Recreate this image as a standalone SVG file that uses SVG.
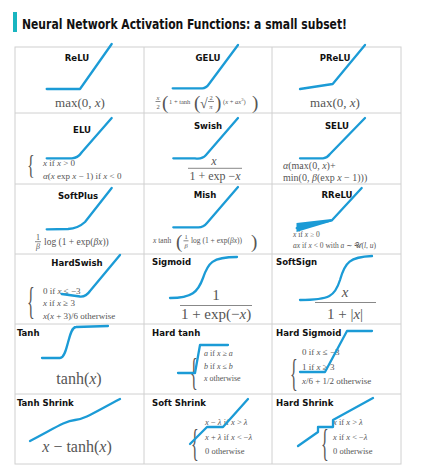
<svg xmlns="http://www.w3.org/2000/svg" width="430" height="474" viewBox="0 0 430 474">
<style>
.lab{font-family:"DejaVu Sans Condensed","Liberation Sans",sans-serif;font-weight:bold;font-size:9.5px;fill:#111;font-stretch:condensed}
.m{font-family:"Liberation Serif","DejaVu Serif",serif;fill:#555}
.i{font-style:italic}
.c{fill:none;stroke:#1b9bd6;stroke-width:2.3;stroke-linejoin:round;stroke-linecap:round}
.g{stroke:#d0d0d0;stroke-width:1;fill:none}
.fr{stroke:#555;stroke-width:0.7}
</style>
<rect width="430" height="474" fill="#fff"/>
<rect x="13" y="12" width="4" height="20" fill="#19b5c0"/>
<text x="22" y="29" font-family="DejaVu Sans Condensed,Liberation Sans,sans-serif" font-weight="bold" font-size="14" font-stretch="condensed" fill="#111" textLength="325" lengthAdjust="spacingAndGlyphs">Neural Network Activation Functions: a small subset!</text>
<g id="grid">
<rect class="g" x="15" y="47" width="386" height="417"/>
<line class="g" x1="144" y1="47" x2="144" y2="464"/>
<line class="g" x1="272" y1="47" x2="272" y2="464"/>
<line class="g" x1="15" y1="113" x2="401" y2="113"/>
<line class="g" x1="15" y1="184" x2="401" y2="184"/>
<line class="g" x1="15" y1="254" x2="401" y2="254"/>
<line class="g" x1="15" y1="324" x2="401" y2="324"/>
<line class="g" x1="15" y1="394" x2="401" y2="394"/>
</g>
<g id="relu">
<text class="lab" x="77" y="61" text-anchor="middle">ReLU</text>
<path class="c" d="M46.7 89 L80 89 L111.7 44"/>
<text class="m" x="80" y="107" font-size="13" text-anchor="middle">max(0, <tspan class="i">x</tspan>)</text>
</g>
<g id="gelu">
<text class="lab" x="208" y="61" text-anchor="middle">GELU</text>
<path class="c" d="M172.7 88.3 L202 88.3 Q206 88.5 209 84 L238 45"/>
<g class="m" font-size="6.5">
<text x="158" y="99.5" text-anchor="middle" class="i">x</text>
<line class="fr" x1="155.5" y1="101.5" x2="160.5" y2="101.5"/>
<text x="158" y="108.5" text-anchor="middle">2</text>
<text x="162" y="109" font-size="19">(</text>
<text x="169" y="104">1 + tanh</text>
<text x="194" y="109" font-size="19">(</text>
<text x="200" y="108" font-size="14">√</text>
<text x="211" y="99.5" text-anchor="middle">2</text>
<line class="fr" x1="208" y1="101.5" x2="214" y2="101.5"/>
<text x="211" y="108.5" text-anchor="middle" class="i">π</text>
<text x="215" y="109" font-size="19">)</text>
<text x="223" y="104">(<tspan class="i">x</tspan> + <tspan class="i">ax</tspan><tspan font-size="4.5" dy="-3">3</tspan><tspan dy="3">)</tspan></text>
<text x="252" y="109" font-size="19">)</text>
</g>
</g>
<g id="prelu">
<text class="lab" x="335" y="61" text-anchor="middle">PReLU</text>
<path class="c" d="M300 89 L332.7 84 L365 45"/>
<text class="m" x="335" y="107" font-size="13" text-anchor="middle">max(0, <tspan class="i">x</tspan>)</text>
</g>
<g id="elu">
<text class="lab" x="82" y="133" text-anchor="middle">ELU</text>
<path class="c" d="M46.7 158.3 L72 158.3 Q78 158 82 152 L111.7 118"/>
<text class="m" x="27" y="174" font-size="20" transform="translate(27 174) scale(0.8 1.35) translate(-27 -174)">{</text>
<text class="m" x="43" y="166" font-size="9"><tspan class="i">x</tspan> if <tspan class="i">x</tspan> &gt; 0</text>
<text class="m" x="43" y="178.5" font-size="9"><tspan class="i">α</tspan>(<tspan class="i">x</tspan> exp <tspan class="i">x</tspan> − 1) if <tspan class="i">x</tspan> &lt; 0</text>
</g>
<g id="swish">
<text class="lab" x="208" y="129" text-anchor="middle">Swish</text>
<path class="c" d="M173.3 158.3 L195 158.3 Q202 159.5 206 155 L238 118"/>
<text class="m i" x="214" y="165" font-size="12" text-anchor="middle">x</text>
<line class="fr" x1="188" y1="168.3" x2="242" y2="168.3"/>
<text class="m" x="215" y="179.5" font-size="12" text-anchor="middle">1 + exp −<tspan class="i">x</tspan></text>
</g>
<g id="selu">
<text class="lab" x="337" y="129" text-anchor="middle">SELU</text>
<path class="c" d="M300 158.3 L323 158.3 Q327 158 330 154 L365 118"/>
<text class="m" x="283" y="168.5" font-size="10"><tspan class="i">α</tspan>(max(0, <tspan class="i">x</tspan>)+</text>
<text class="m" x="283" y="180.5" font-size="10">min(0, <tspan class="i">β</tspan>(exp <tspan class="i">x</tspan> − 1)))</text>
</g>
<g id="softplus">
<text class="lab" x="78" y="199" text-anchor="middle">SoftPlus</text>
<path class="c" d="M46.7 229.3 L68 229 Q78 228.5 85 222 L111.7 188"/>
<text class="m" x="38" y="239.5" font-size="8" text-anchor="middle">1</text>
<line class="fr" x1="35" y1="241.7" x2="41" y2="241.7"/>
<text class="m i" x="38" y="249" font-size="8" text-anchor="middle">β</text>
<text class="m" x="44" y="245" font-size="9.5">log (1 + exp(<tspan class="i">βx</tspan>))</text>
</g>
<g id="mish">
<text class="lab" x="205" y="198" text-anchor="middle">Mish</text>
<path class="c" d="M173.3 227.3 L197 227.3 Q203 228 207 223 L238 187"/>
<g class="m" font-size="7.5">
<text x="153" y="243"><tspan class="i">x</tspan> tanh</text>
<text x="176" y="248" font-size="19">(</text>
<text x="186" y="239" text-anchor="middle" font-size="6.5">1</text>
<line class="fr" x1="183.5" y1="240.8" x2="188.5" y2="240.8"/>
<text x="186" y="247.5" text-anchor="middle" font-size="6.5" class="i">β</text>
<text x="191" y="243">log (1 + exp(<tspan class="i">βx</tspan>))</text>
<text x="251" y="248" font-size="19">)</text>
</g>
</g>
<g id="rrelu">
<text class="lab" x="337" y="197.5" text-anchor="middle">RReLU</text>
<polygon points="296.5,223 331.5,219 331.5,221.5 296.5,232" fill="#1b9bd6"/>
<path class="c" d="M296.7 228 L331.7 220.5 L361.7 188"/>
<text class="m" x="293" y="237" font-size="7.5"><tspan class="i">x</tspan> if <tspan class="i">x</tspan> ≥ 0</text>
<text class="m" x="293" y="248" font-size="7.5"><tspan class="i">ax</tspan> if <tspan class="i">x</tspan> &lt; 0 with <tspan class="i">a</tspan> ∼ 𝒰(<tspan class="i">l</tspan>, <tspan class="i">u</tspan>)</text>
</g>
<g id="hardswish">
<text class="lab" x="77" y="266" text-anchor="middle">HardSwish</text>
<text class="m" x="27" y="314" font-size="20" transform="translate(27 314) scale(0.8 1.9) translate(-27 -314)">{</text>
<text class="m" x="43" y="293.5" font-size="9">0 if <tspan class="i">x</tspan> ≤ −3</text>
<text class="m" x="43" y="306" font-size="9"><tspan class="i">x</tspan> if <tspan class="i">x</tspan> ≥ 3</text>
<text class="m" x="43" y="318.5" font-size="9"><tspan class="i">x</tspan>(<tspan class="i">x</tspan> + 3)/6 otherwise</text>
<path class="c" d="M61.7 294 L80 296.5 Q86 297 90 291 L120 255"/>
</g>
<g id="sigmoid">
<text class="lab" x="152" y="265">Sigmoid</text>
<path class="c" d="M170 298 C192 298 198 292 203 278 C208 263 212 257 237 257"/>
<text class="m" x="216" y="300" font-size="15" text-anchor="middle">1</text>
<line class="fr" x1="180" y1="305.5" x2="252" y2="305.5"/>
<text class="m" x="216" y="319" font-size="15" text-anchor="middle">1 + exp(−<tspan class="i">x</tspan>)</text>
</g>
<g id="softsign">
<text class="lab" x="276" y="265">SoftSign</text>
<path class="c" d="M300 300 C330 300 335 296 340 280 C345 262 350 257 372 256"/>
<text class="m i" x="345" y="297" font-size="15" text-anchor="middle">x</text>
<line class="fr" x1="315" y1="302.5" x2="376" y2="302.5"/>
<text class="m" x="345" y="318.5" font-size="15" text-anchor="middle">1 + |<tspan class="i">x</tspan>|</text>
</g>
<g id="tanh">
<text class="lab" x="17" y="336">Tanh</text>
<path class="c" d="M42 358 L60 358 C68 358 68 327 76 327 L108 326"/>
<text class="m" x="79" y="384" font-size="16" text-anchor="middle">tanh(<tspan class="i">x</tspan>)</text>
</g>
<g id="hardtanh">
<text class="lab" x="152" y="336">Hard tanh</text>
<text class="m" x="190" y="385" font-size="20" transform="translate(190 385) scale(0.8 1.9) translate(-190 -385)">{</text>
<text class="m" x="204" y="356" font-size="8"><tspan class="i">a</tspan> if <tspan class="i">x</tspan> ≥ <tspan class="i">a</tspan></text>
<text class="m" x="204" y="368.5" font-size="8"><tspan class="i">b</tspan> if <tspan class="i">x</tspan> ≤ <tspan class="i">b</tspan></text>
<text class="m" x="204" y="381" font-size="8"><tspan class="i">x</tspan> otherwise</text>
<path class="c" d="M178 373 L195 373 L200 345 L228 345"/>
</g>
<g id="hardsigmoid">
<text class="lab" x="276" y="336">Hard Sigmoid</text>
<text class="m" x="290" y="386" font-size="20" transform="translate(290 386) scale(0.8 1.9) translate(-290 -386)">{</text>
<text class="m" x="302" y="355" font-size="9">0 if <tspan class="i">x</tspan> ≤ −3</text>
<text class="m" x="302" y="369.5" font-size="9">1 if <tspan class="i">x</tspan> ≥ 3</text>
<text class="m" x="302" y="384" font-size="9"><tspan class="i">x</tspan>/6 + 1/2 otherwise</text>
<path class="c" d="M300 372 L325 372 L347 331 L372 331"/>
</g>
<g id="tanhshrink">
<text class="lab" x="17" y="406">Tanh Shrink</text>
<path class="c" d="M30 441 C55 428 65 421 75 420 C85 419 95 412 120 399"/>
<text class="m" x="77" y="452" font-size="16" text-anchor="middle"><tspan class="i">x</tspan> − tanh(<tspan class="i">x</tspan>)</text>
</g>
<g id="softshrink">
<text class="lab" x="152" y="406">Soft Shrink</text>
<text class="m" x="191" y="456" font-size="20" transform="translate(191 456) scale(0.8 1.9) translate(-191 -456)">{</text>
<text class="m" x="205" y="425" font-size="8.5"><tspan class="i">x</tspan> − <tspan class="i">λ</tspan> if <tspan class="i">x</tspan> &gt; <tspan class="i">λ</tspan></text>
<text class="m" x="205" y="439.5" font-size="8.5"><tspan class="i">x</tspan> + <tspan class="i">λ</tspan> if <tspan class="i">x</tspan> &lt; −<tspan class="i">λ</tspan></text>
<text class="m" x="205" y="454" font-size="8.5">0 otherwise</text>
<path class="c" d="M190 444 L207 427 L223 427 L248 399"/>
</g>
<g id="hardshrink">
<text class="lab" x="276" y="406">Hard Shrink</text>
<text class="m" x="321" y="456" font-size="20" transform="translate(321 456) scale(0.8 1.9) translate(-321 -456)">{</text>
<text class="m" x="333" y="425" font-size="8.5"><tspan class="i">x</tspan> if <tspan class="i">x</tspan> &gt; <tspan class="i">λ</tspan></text>
<text class="m" x="333" y="439.5" font-size="8.5"><tspan class="i">x</tspan> if <tspan class="i">x</tspan> &lt; −<tspan class="i">λ</tspan></text>
<text class="m" x="333" y="454" font-size="8.5">0 otherwise</text>
<path class="c" d="M298 446 L318 432 L318 427 L333 427 L333 420 L373 398"/>
</g>
</svg>
